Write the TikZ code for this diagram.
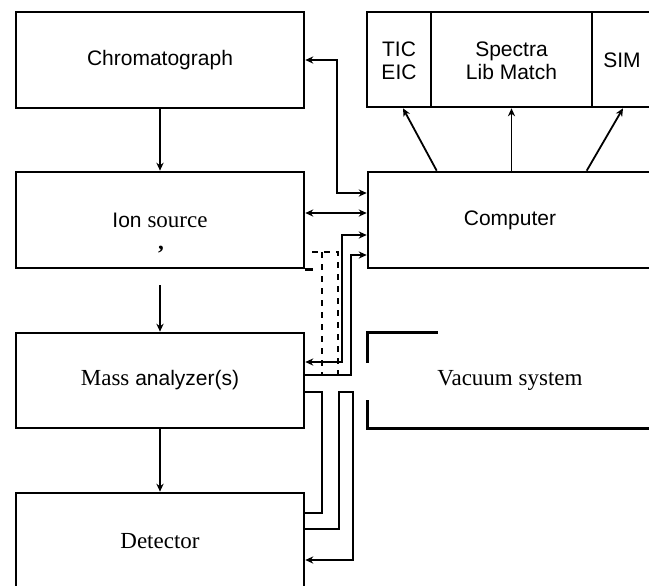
\documentclass[tikz,border=0pt]{standalone}
\usepackage{fontspec}
\setmainfont{Liberation Sans}
\newfontfamily\tms{Liberation Serif}
\usepackage{tikz}
\usetikzlibrary{arrows.meta, positioning, calc}
\newcommand{\rmtxt}[1]{{\tms\fontsize{11.5}{13}\selectfont #1}}
\newcommand{\lowtxt}[1]{\raisebox{-4.6pt}[0pt][0pt]{\begin{tabular}{@{}c@{}}#1\end{tabular}}}

\begin{document}
\begin{tikzpicture}[x=0.5pt, y=-0.5pt,
    block/.style={draw, line width=1.3pt, inner sep=0pt, font=\fontsize{10.5}{11.5}\selectfont, align=center},
    link/.style={line width=0.9pt},
    arr/.style={link, -{Stealth[length=4pt, width=3.6pt]}},
    both/.style={link, {Stealth[length=4pt, width=3.6pt]}-{Stealth[length=4pt, width=3.6pt]}}]
  \useasboundingbox (0,0) rectangle (649,585);
  \clip (0,0) rectangle (649,585);

  % instrument chain
  \node[block, minimum width=144pt, minimum height=48pt] (chrom) at (160,60) {Chromatograph};
  \node[block, minimum width=144pt, minimum height=48pt] (ion) at (160,220) {Ion \rmtxt{source}};
  \node[block, minimum width=144pt, minimum height=47.5pt] (mass) at (160,380.5) {\rmtxt{Mass} analyzer(s)};
  \node[block, minimum width=144pt, minimum height=48pt] (det) at (160,541) {\rmtxt{Detector}};
  \node (comma) at (161,250) {\rmtxt{\textbf{,}}};

  % data system
  \node[block, minimum width=142pt, minimum height=48pt] (comp) at (510,220) {Computer};
  \node[block, minimum width=32pt, minimum height=47.5pt] (tic) at (399,59.5) {\lowtxt{TIC\\EIC}};
  \node[block, minimum width=80.5pt, minimum height=47.5pt] (spec) at (511.5,59.5) {\lowtxt{Spectra\\Lib Match}};
  \node[block, minimum width=30pt, minimum height=47.5pt] (sim) at (622,59.5) {\lowtxt{SIM}};

  % vacuum
  \node[minimum width=142pt, minimum height=47.5pt, inner sep=0pt] (vac) at (510,380.5) {\rmtxt{Vacuum system}};
  \draw[line width=1.3pt] ($(vac.north west)+(70,0)$) -- (vac.north west) -- ++(0,30);
  \draw[line width=1.3pt] ($(vac.south west)+(0,-28)$) -- (vac.south west) -- (vac.south east);

  % flow
  \draw[arr] (chrom.south) -- (ion.north);
  \draw[arr] ($(ion.south)+(0,16)$) -- (mass.north);
  \draw[arr] (mass.south) -- (det.north);

  % computer outputs
  \draw[arr] ($(comp.north west)+(70,0)$) -- ($(tic.south)+(4,0)$);
  \draw[arr] (comp.north -| spec.south) -- (spec.south);
  \draw[arr] ($(comp.north west)+(220,0)$) -- ($(sim.south)+(1,0)$);

  % control lines
  \draw[both] (chrom.east) -- ++(32,0) |- ($(comp.west)+(0,-27)$);
  \draw[both] ($(ion.east)+(0,-7)$) -- ($(comp.west)+(0,-7)$);
  \draw[both] ($(mass.east)+(0,-18.5)$) -- ++(37,0) |- ($(comp.west)+(0,15)$);
  \draw[arr] ($(mass.east)+(0,-5.5)$) -- ++(46,0) |- ($(comp.west)+(0,35)$);

  % pipes
  \draw[link] ($(mass.east)+(0,11.5)$) -- ++(17,0) |- ($(det.east)+(0,-28)$);
  \draw[arr] ($(det.east)+(0,-12)$) -- ++(34,0) -- ++(0,-137) -- ++(14,0) |- ($(det.east)+(0,19)$);
  \draw[link, dashed] ($(ion.east)+(7,32)$) -- ++(26,0) -- ++(0,123);
  \draw[link, dashed] ($(ion.east)+(17,32)$) -- ++(0,123);
  \draw[line width=1.3pt] (ion.south east) -- ++(8,0);
\end{tikzpicture}
\end{document}
